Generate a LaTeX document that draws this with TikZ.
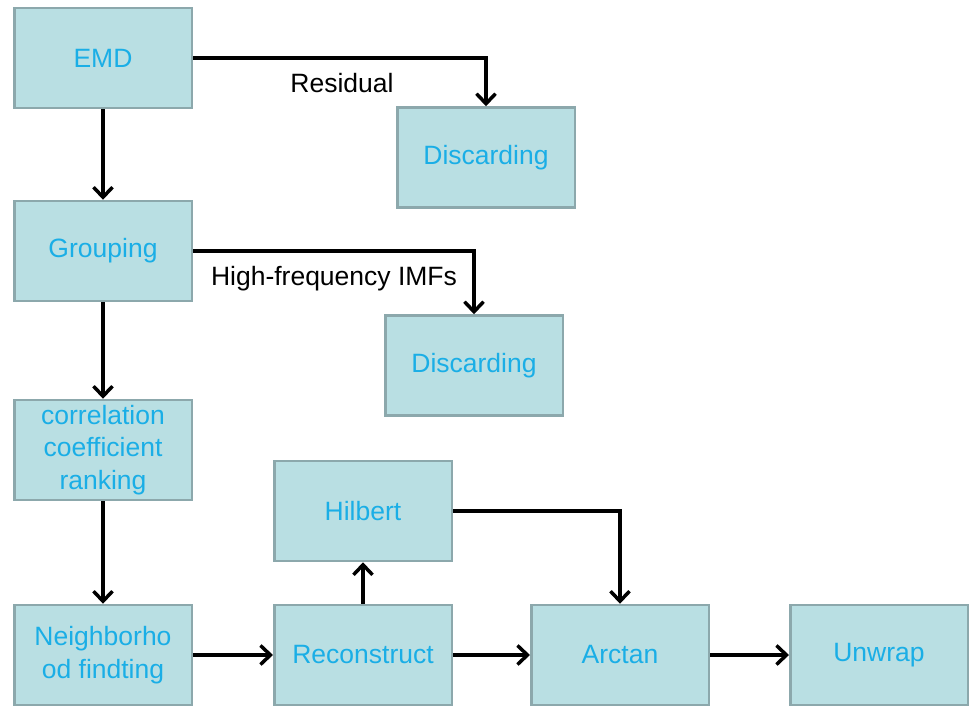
\documentclass[tikz,border=0pt]{standalone}
\usepackage{fontspec}
\setmainfont{Liberation Sans}
\usetikzlibrary{arrows.meta}
\definecolor{boxfill}{HTML}{B9DFE3}
\definecolor{boxline}{HTML}{8CA8AC}
\definecolor{boxtext}{HTML}{1AAEE6}
\tikzset{
  blk/.style={draw=boxline, fill=boxfill, line width=2.5pt, minimum width=177.5pt, minimum height=100pt,
    inner sep=0pt, align=center, text=boxtext, font=\fontsize{26.5}{32.5}\selectfont},
  lbl/.style={text=black, font=\fontsize{26.5}{32.5}\selectfont, inner sep=0pt},
  conn/.style={line width=3.5pt, -{Straight Barb[length=10pt,width=19pt,line width=3.5pt]}}
}
\begin{document}
\begin{tikzpicture}[x=1pt,y=-1pt]
\useasboundingbox (0,0) rectangle (970,707);
\node[blk] (emd) at (103,58) {EMD};
\node[blk] (dis1) at (486,157.5) {Discarding};
\node[blk] (grp) at (103,251) {Grouping};
\node[blk] (dis2) at (474,365.5) {Discarding};
\node[blk] (cor) at (103,450) {correlation\\coefficient\\ranking};
\node[blk] (hil) at (363,511) {Hilbert};
\node[blk] (nei) at (103,655) {Neighborho\\od findting};
\node[blk] (rec) at (363,655) {Reconstruct};
\node[blk] (arc) at (620,655) {Arctan};
\node[blk] (unw) at (879,655) {Unwrap};

\node[lbl] (res) at (342,83) {Residual};
\node[lbl] (hf) at (334,279) {High-frequency IMFs};

\draw[conn] (emd.east) -| (dis1.north);
\draw[conn] (grp.east) -| (dis2.north);
\draw[conn] (emd) -- (grp);
\draw[conn] (grp) -- (cor);
\draw[conn] (cor) -- (nei);
\draw[conn] (nei) -- (rec);
\draw[conn] (rec) -- (hil);
\draw[conn] (rec) -- (arc);
\draw[conn] (arc) -- (unw);
\draw[conn] (hil.east) -| (arc.north);
\end{tikzpicture}
\end{document}
